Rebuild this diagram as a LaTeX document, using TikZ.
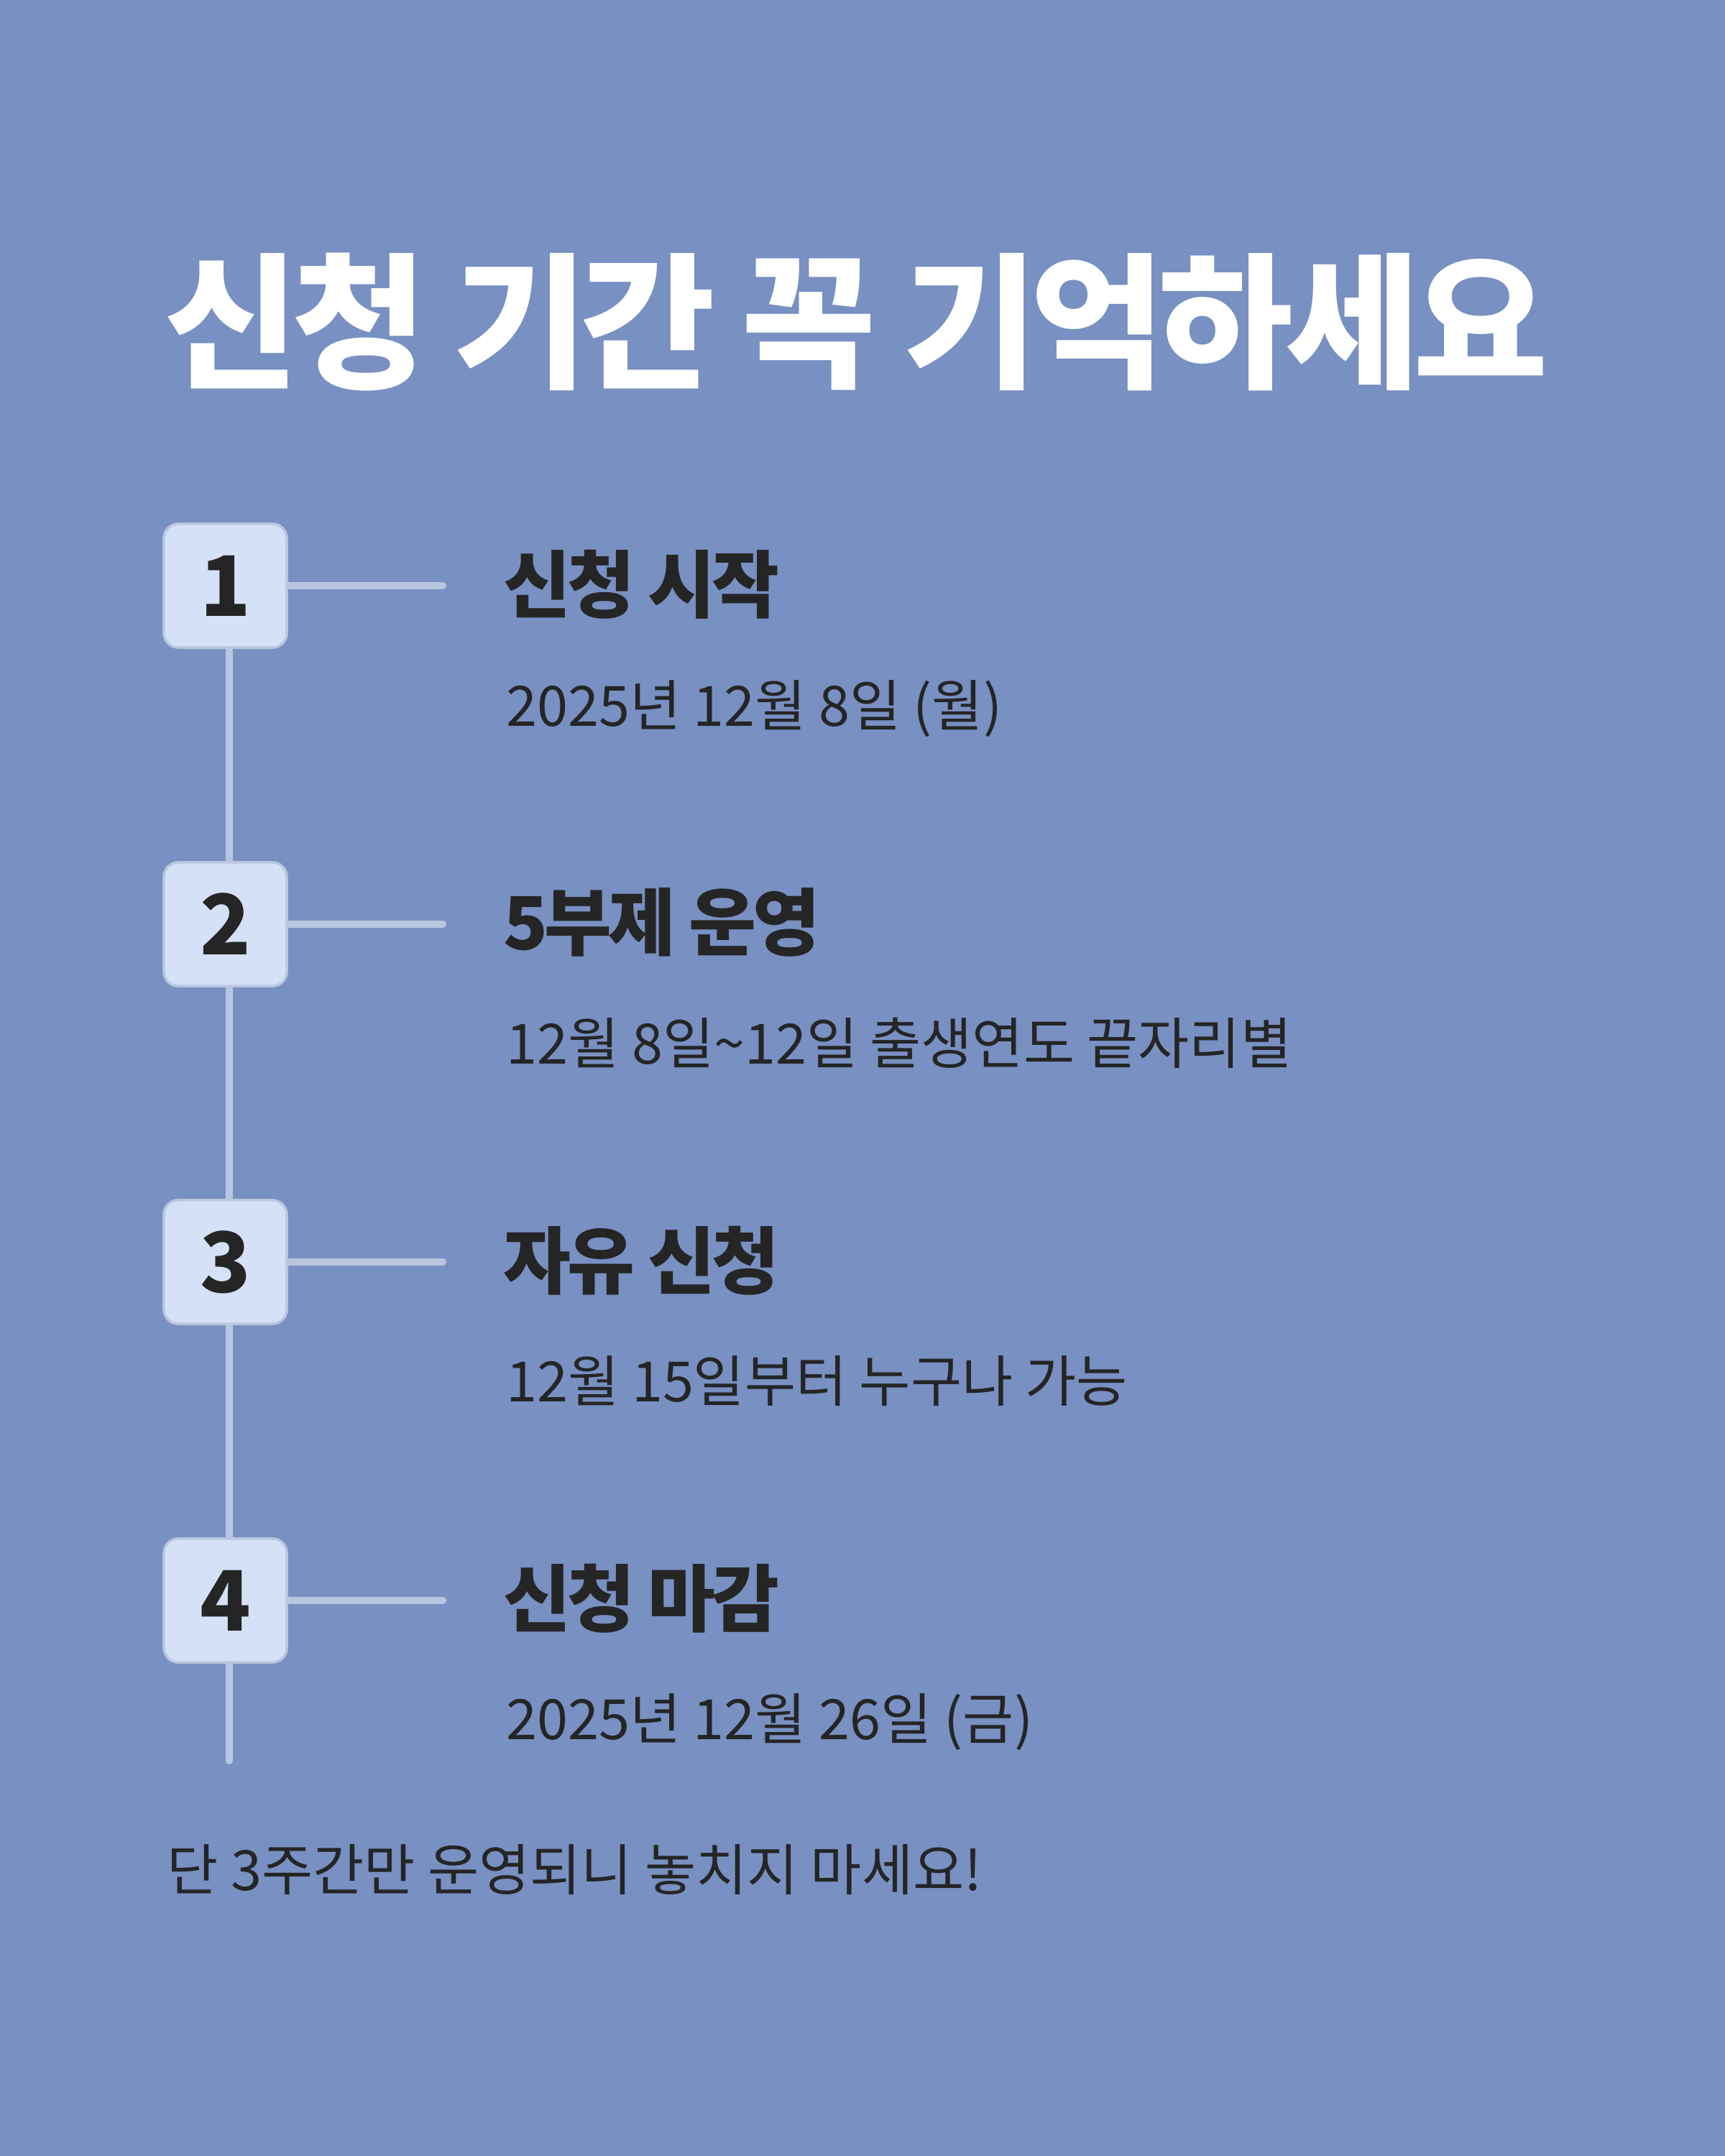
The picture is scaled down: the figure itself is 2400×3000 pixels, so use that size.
\documentclass[tikz,border=0pt]{standalone}
\usepackage{fontspec}
\setmainfont{Noto Sans CJK KR}
\usetikzlibrary{backgrounds}
\definecolor{pagebg}{RGB}{120,144,194}
\definecolor{stepfill}{RGB}{213,225,247}
\definecolor{stepline}{RGB}{185,198,223}
\definecolor{inkdark}{RGB}{37,37,37}

\begin{document}
\begin{tikzpicture}[x=0.01cm, y=-0.01cm,
  numbox/.style={draw=stepline, fill=stepfill, line width=1pt, rounded corners=0.2cm,
    minimum width=1.71cm, minimum height=1.72cm, inner sep=0pt, text=inkdark,
    font=\fontsize{33pt}{36pt}\selectfont\bfseries},
  stephead/.style={anchor=base west, inner sep=0pt, text=inkdark,
    font=\fontsize{29pt}{32pt}\selectfont\bfseries\addfontfeatures{LetterSpace=-5}},
  stepdate/.style={anchor=base west, inner sep=0pt, text=inkdark,
    font=\fontsize{22pt}{25pt}\selectfont},
  link/.style={draw=stepline, line width=2.85pt, line cap=round}]
% title
\node[anchor=base west, inner sep=0pt, text=white,
      font=\fontsize{58pt}{62pt}\selectfont\bfseries\addfontfeatures{LetterSpace=-5}] (title) at (228,524) {신청 기간 꼭 기억하세요};
% steps
\node[numbox] (n1) at (313.5,815) {1};
\node[stephead] (h1) at (700,851) {신청 시작};
\node[stepdate] (d1) at (704,1010) {2025년 12월 8일 (월)};
\node[numbox] (n2) at (313.5,1286) {2};
\node[stephead] (h2) at (700,1321) {5부제 운영};
\node[stepdate] (d2) at (704,1480) {12월 8일\textasciitilde12일 출생연도 끝자리별};
\node[numbox] (n3) at (313.5,1756) {3};
\node[stephead] (h3) at (700,1792) {자유 신청};
\node[stepdate] (d3) at (704,1950) {12월 15일부터 누구나 가능};
\node[numbox] (n4) at (313.5,2227) {4};
\node[stephead] (h4) at (700,2262) {신청 마감};
\node[stepdate] (d4) at (704,2420) {2025년 12월 26일 (금)};
% footer
\node[stepdate] (note) at (232,2630) {단 3주간만 운영되니 놓치지 마세요!};
\coordinate (spinetop) at (319,815);
\coordinate (spineend) at (319,2450);
\begin{scope}[on background layer]
  \fill[pagebg] (0,0) rectangle (2400,3000);
  \draw[link] (spinetop) -- (spineend);
  \draw[link] (n1.east) -- (616,815);
  \draw[link] (n2.east) -- (616,1286);
  \draw[link] (n3.east) -- (616,1756);
  \draw[link] (n4.east) -- (616,2227);
\end{scope}
\end{tikzpicture}
\end{document}
